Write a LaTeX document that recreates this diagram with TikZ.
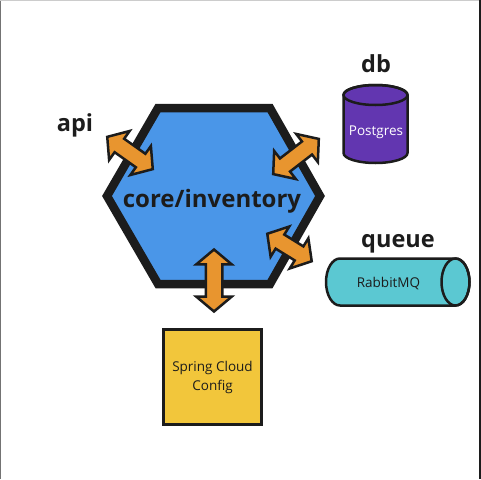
\documentclass[tikz,border=0pt]{standalone}
\usepackage{fontspec}
\setmainfont{Open Sans}
\usepackage{xcolor}
\usepackage{tikz}
\usetikzlibrary{shapes.arrows,calc}
\definecolor{hexblue}{HTML}{4A96E8}
\definecolor{arroworange}{HTML}{E8952F}
\definecolor{dbpurple}{HTML}{6236B0}
\definecolor{queueteal}{HTML}{5BC8D2}
\definecolor{configyellow}{HTML}{F2C63B}
\definecolor{ink}{HTML}{1C1C1C}

\begin{document}
\begin{tikzpicture}[x=1pt,y=1pt,
		biarrow/.style={double arrow, draw=ink, fill=arroworange, line width=2.5pt, inner sep=7pt, double arrow head extend=9.5pt, double arrow tip angle=100, sloped},
		lbl/.style={font=\bfseries\fontsize{23.5}{28}\selectfont, text=ink, anchor=base},
		txt/.style={font=\fontsize{13.5}{19}\selectfont, anchor=base},
		cyl/.style={draw=ink, line width=2.5pt}]
			\useasboundingbox (0,0) rectangle (481,-479);
			% Vẽ khung
			\draw[black!55] (0.5,0) -- (0.5,-479);
			\draw[black!20] (0,-0.5) -- (481,-0.5);
			\draw[ink, line width=2pt] (480,0) -- (480,-479);
			% Vẽ lục giác
			\draw[ink, fill=hexblue, line width=8.5pt] (158,-108) -- (270,-108) -- (320,-196) -- (270,-284) -- (158,-284) -- (107,-196) -- cycle;
			\node[lbl, font=\bfseries\fontsize{24}{28}\selectfont] (core) at (212,-207) {core/inventory};
			% Vẽ nhãn
			\node[lbl] (api) at (75,-131) {api};
			\node[lbl] (db) at (376,-72) {db};
			\node[lbl] (queue) at (398,-247) {queue};
			% Vẽ cơ sở dữ liệu
			\draw[cyl, fill=dbpurple] (343.5,-95) -- (343.5,-153) arc[start angle=180, end angle=360, x radius=32, y radius=10] -- (407.5,-95) arc[start angle=0, end angle=180, x radius=32, y radius=10] -- cycle;
			\draw[cyl] (375.5,-95) ellipse [x radius=32, y radius=10];
			\node[txt, text=white] (postgres) at (376,-135) {Postgres};
			% Vẽ hàng đợi
			\draw[cyl, fill=queueteal] (340,-258.5) -- (455.5,-258.5) arc[start angle=90, end angle=-90, x radius=14, y radius=23.5] -- (340,-305.5) arc[start angle=270, end angle=90, x radius=14, y radius=23.5] -- cycle;
			\draw[cyl] (455.5,-282) ellipse [x radius=14, y radius=23.5];
			\node[txt, text=ink] (rabbit) at (388.5,-287) {RabbitMQ};
			% Vẽ cấu hình
			\node[draw=ink, fill=configyellow, line width=3pt, minimum width=98pt, minimum height=95pt, align=center, text=ink, font=\fontsize{13.5}{19}\selectfont] (config) at (212.5,-377) {Spring Cloud\\Config};
			% Vẽ mũi tên
			\coordinate (api1) at (106,-136); \coordinate (api2) at (154,-170);
			\coordinate (db1) at (272,-175); \coordinate (db2) at (320,-138);
			\coordinate (q1) at (266,-233); \coordinate (q2) at (313,-262);
			\coordinate (c1) at (214,-248); \coordinate (c2) at (214,-313);
			\foreach \a/\b in {api1/api2,db1/db2,q1/q2,c1/c2}
			\path let \p1=($(\b)-(\a)$), \n1={veclen(\x1,\y1)-3} in (\a) -- node[biarrow, minimum height=\n1] {} (\b);
		\end{tikzpicture}
\end{document}
